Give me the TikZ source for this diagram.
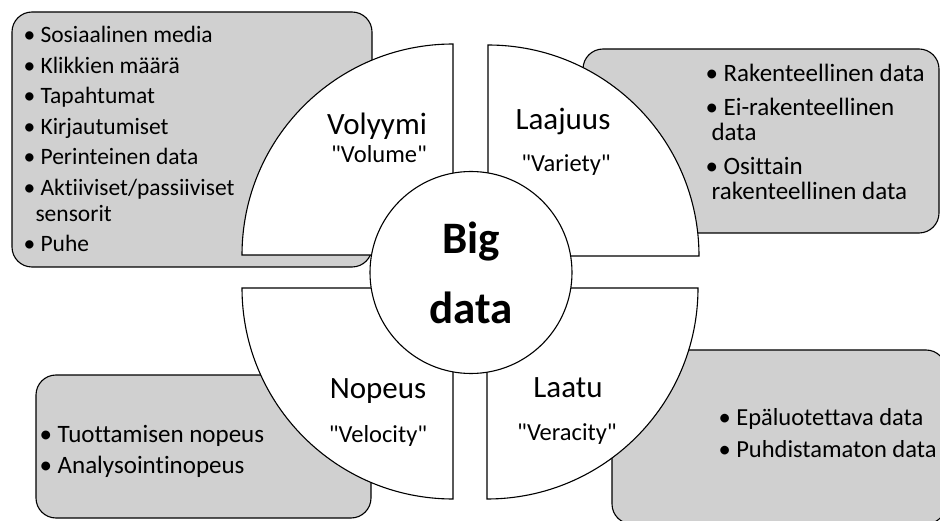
\documentclass[tikz,border=0pt]{standalone}
\usepackage{fontspec}
\setmainfont{Carlito}[Ligatures={NoCommon}]
\definecolor{boxgray}{RGB}{208,208,208}
\begin{document}
\begin{tikzpicture}[x=1pt,y=1pt,line width=1.1pt]
	\tikzset{info_box/.style={draw, fill=boxgray, rounded corners=20pt}}
	\tikzset{quarter/.style={draw, fill=white}}
	\tikzset{item_list/.style={anchor=base west, inner sep=0pt}}
	\tikzset{v_title/.style={anchor=base, inner sep=0pt, font=\fontsize{31}{36}\selectfont}}
	\tikzset{v_quote/.style={anchor=base, inner sep=0pt, font=\fontsize{24.5}{28}\selectfont}}
	\useasboundingbox (0,0) rectangle (940,520);
	\clip (0,0) rectangle (940,520);
	% grey boxes behind the quarters
	\draw[info_box] (12,253) rectangle (372,508);
	\draw[info_box] (583,287) rectangle (939,471);
	\draw[info_box] (36,2) rectangle (371,145);
	\draw[info_box] (612,-4) rectangle (946,170);
	% the four quarters
	\draw[quarter] (453,265) -- (453,476) arc[start angle=90, end angle=180, radius=211] -- cycle;
	\draw[quarter] (488,264) -- (488,475) arc[start angle=90, end angle=0, radius=211] -- cycle;
	\draw[quarter] (453,232) -- (242,232) arc[start angle=180, end angle=270, radius=211] -- cycle;
	\draw[quarter] (487,232) -- (698,232) arc[start angle=0, end angle=-90, radius=211] -- cycle;
	\node[draw, fill=white, circle, minimum size=202pt, align=center,
		font=\fontsize{45}{70}\selectfont\bfseries] (bigdata) at (471,247.5) {Big\\data};
	\node[v_title] (volyymi) at (377,385) {Volyymi};
	\node[v_quote] (volume) at (379,357) {\textquotedbl Volume\textquotedbl};
	\node[v_title] (laajuus) at (563,390) {Laajuus};
	\node[v_quote] (variety) at (566,348) {\textquotedbl Variety\textquotedbl};
	\node[v_title] (nopeus) at (378,122) {Nopeus};
	\node[v_quote] (velocity) at (378,78) {\textquotedbl Velocity\textquotedbl};
	\node[v_title] (laatu) at (568,123) {Laatu};
	\node[v_quote] (veracity) at (567,80) {\textquotedbl Veracity\textquotedbl};
	% bullet lists
	\node[item_list] (list_volume) at (23,477) {\fontsize{23.5}{26}\selectfont
		\begin{tabular}[t]{@{}l@{}}
		\textbullet\ Sosiaalinen media\\[4.5pt]
		\textbullet\ Klikkien määrä\\[4.5pt]
		\textbullet\ Tapahtumat\\[4.5pt]
		\textbullet\ Kirjautumiset\\[4.5pt]
		\textbullet\ Perinteinen data\\[4.5pt]
		\textbullet\ Aktiiviset/passiiviset\\
		\hspace*{12pt}sensorit\\[4.5pt]
		\textbullet\ Puhe
		\end{tabular}};
	\node[item_list] (list_variety) at (705,438) {\fontsize{25}{25}\selectfont
		\begin{tabular}[t]{@{}l@{}}
		\textbullet\ Rakenteellinen data\\[9pt]
		\textbullet\ Ei-rakenteellinen\\
		\hspace*{6pt}data\\[9pt]
		\textbullet\ Osittain\\
		\hspace*{6pt}rakenteellinen data
		\end{tabular}};
	\node[item_list] (list_velocity) at (39,78) {\fontsize{25}{26}\selectfont
		\begin{tabular}[t]{@{}l@{}}
		\textbullet\ Tuottamisen nopeus\\[5pt]
		\textbullet\ Analysointinopeus
		\end{tabular}};
	\node[item_list] (list_veracity) at (718,95) {\fontsize{24.5}{26}\selectfont
		\begin{tabular}[t]{@{}l@{}}
		\textbullet\ Epäluotettava data\\[6pt]
		\textbullet\ Puhdistamaton data
		\end{tabular}};
\end{tikzpicture}
\end{document}
